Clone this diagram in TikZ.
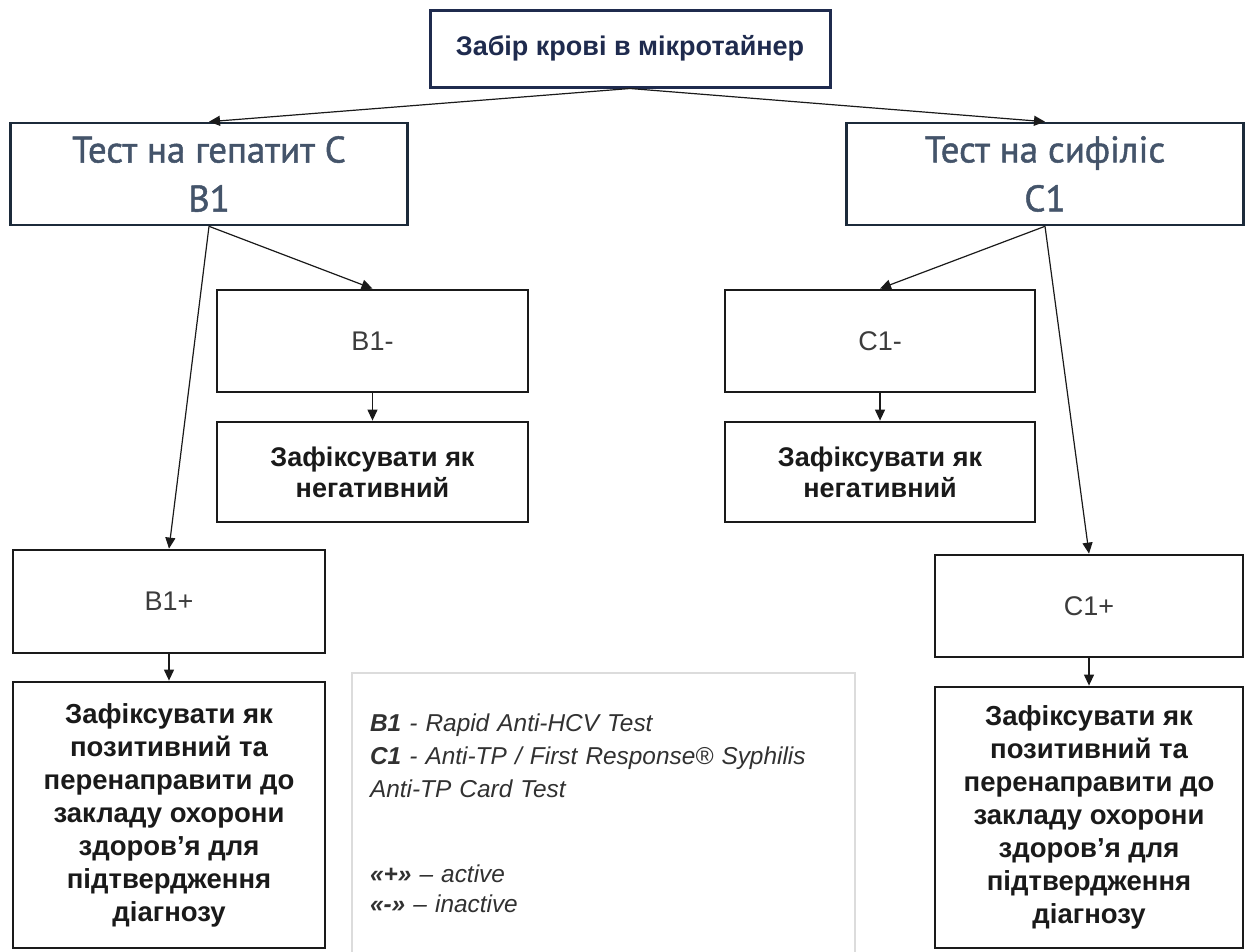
\documentclass[tikz,border=0pt]{standalone}
\usepackage{fontspec}
\setmainfont{Liberation Sans}
\newfontfamily\headfont[FakeBold=1.3]{PT Sans}
\usepackage{tikz}
\usetikzlibrary{arrows.meta, positioning}
\definecolor{flowNavy}{HTML}{1F2B4E}
\definecolor{flowSlate}{HTML}{44546A}
\definecolor{flowEdge}{HTML}{1C2A3A}
\definecolor{flowInk}{HTML}{1A1A1A}
\definecolor{flowGrey}{HTML}{DCDCDC}

\begin{document}
\begin{tikzpicture}[
  x=1pt, y=-1pt,
  box/.style={draw=flowInk, line width=2.8pt, fill=white, inner sep=0pt, align=center, text=flowInk},
  test/.style={box, draw=flowEdge, line width=2.6pt, minimum width=397pt, minimum height=102pt, font=\headfont\fontsize{37}{49}\selectfont, text=flowSlate},
  sign/.style={box, minimum width=311pt, minimum height=102pt, font=\fontsize{27}{30}\selectfont, text=flowInk!85},
  res/.style={box, minimum width=311pt, font=\bfseries\fontsize{27.5}{33}\selectfont},
  arr/.style={-{Triangle[length=11pt, width=10pt]}, line width=1.2pt, draw=flowInk}
]
\useasboundingbox (0,0) rectangle (1246,951);

\node[box, draw=flowNavy, line width=3pt, minimum width=400pt, minimum height=77pt, text=flowNavy, font=\bfseries\fontsize{27}{30}\selectfont] (blood) at (630,48.5) {Забір крові в мікротайнер};

\node[test] (hepc) at (209,174) {Тест на гепатит С\\В1};
\node[test] (syph) at (1045,174) {Тест на сифіліс\\С1};

\node[sign] (bneg) at (372.5,341) {B1-};
\node[res, minimum height=100pt, font=\bfseries\fontsize{27}{31}\selectfont] (bnegres) at (372.5,472) {Зафіксувати як\\негативний};
\node[sign, minimum width=310pt] (cneg) at (880,341) {C1-};
\node[res, minimum width=310pt, minimum height=100pt, font=\bfseries\fontsize{27}{31}\selectfont] (cnegres) at (880,472) {Зафіксувати як\\негативний};

\node[sign, minimum width=312pt, minimum height=103pt] (bpos) at (169,601.5) {B1+};
\node[res, minimum width=312pt, minimum height=266pt] (bposres) at (169,815) {Зафіксувати як\\позитивний та\\перенаправити до\\закладу охорони\\здоров’я для\\підтвердження\\діагнозу};
\node[sign, minimum width=308pt] (cpos) at (1089,606) {C1+};
\node[res, minimum width=308pt, minimum height=261pt] (cposres) at (1089,817.5) {Зафіксувати як\\позитивний та\\перенаправити до\\закладу охорони\\здоров’я для\\підтвердження\\діагнозу};

% legend
\node[draw=flowGrey, line width=1.5pt, minimum width=503pt, minimum height=280pt, inner xsep=18pt, text width=467pt, align=left, text=flowInk!90, font=\itshape\fontsize{24.4}{33}\selectfont] (legend) at (603.5,813) {\textbf{B1} - Rapid Anti-HCV Test\\\textbf{C1} - Anti-TP / First Response® Syphilis\\Anti-TP Card Test\\[52pt]\textbf{«+»} – active\\[-3pt]\textbf{«-»} – inactive};

\foreach \a/\b in {blood/hepc, blood/syph, hepc/bneg, hepc/bpos, syph/cneg, syph/cpos, bneg/bnegres, cneg/cnegres, bpos/bposres, cpos/cposres}
  \draw[arr] (\a.south) -- (\b.north);
\end{tikzpicture}
\end{document}
